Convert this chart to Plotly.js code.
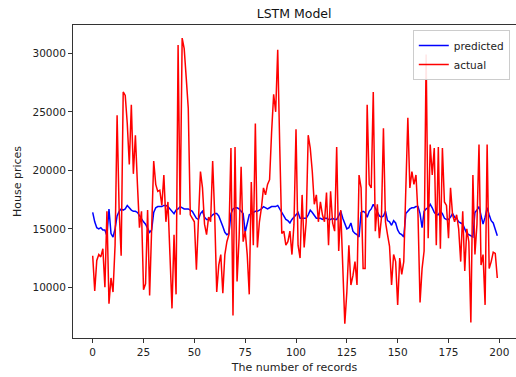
<!DOCTYPE html>
<html>
<head>
<meta charset="utf-8">
<script src="https://cdn.plot.ly/plotly-3.0.1.min.js"></script>
<style>html,body{margin:0;padding:0;background:#fff;}#chart{width:516px;height:377px;}</style>
</head>
<body>
<div id="chart"></div>
<script>
const predicted = [
16400,15600,15100,15000,15100,14900,14900,14400,16700,14600,
14300,15000,16100,16500,16700,16600,16700,17000,16800,16600,
16500,16500,16400,16100,15800,15600,15400,15000,14700,14900,
16400,16800,16900,16900,16900,17000,17000,16900,16700,16500,
16300,16600,16700,16900,16800,16700,16700,16700,16600,16500,
16200,15900,15800,16300,16500,16000,15800,15800,16000,16200,
16300,16300,16100,15700,15200,14700,14500,14600,16300,16700,
16800,16800,16700,16500,16300,14700,15600,16200,16300,16400,
16500,16500,16600,16700,16900,16800,16700,16800,16900,16900,
16900,17000,16700,16300,16000,15800,15700,15500,15800,16000,
16200,16400,15900,15900,15900,15900,16200,16600,16400,16100,
15900,15900,15900,15800,15900,15900,15800,15800,15900,15800,
15800,16100,16500,15900,15500,15000,15100,15500,14800,14600,
14500,14300,16400,16500,16400,16000,16500,16700,17100,16800,
16500,16100,16000,16100,16500,15700,15600,15300,15700,15500,
14900,14600,14500,14300,16300,16500,16700,16800,16800,16900,
16900,16300,15100,16500,16700,16800,17100,16800,16400,16200,
16200,16500,16300,15900,15800,15800,16000,16300,16000,15900,
15600,15500,15400,15000,14600,14500,14400,14300,16400,16600,
16900,16000,15400,16000,16800,16200,15700,15500,15000,14400
];
const actual = [
12700,9700,12300,12800,12600,13300,10000,16500,8600,10800,
9600,13600,24700,16600,12700,26700,26400,24000,20500,25600,
19700,23000,18800,15100,16500,9800,10300,16600,9300,15000,
20800,18800,18200,18300,17000,19600,15600,17300,12500,8200,
14500,9400,30700,16200,31300,30400,27900,25300,16200,15900,
15600,11500,16200,19900,18500,15400,14500,16000,15600,20800,
16200,9600,11900,12800,9500,12800,13900,14500,21900,7600,
22000,10500,14200,20300,13900,14800,12800,9400,19000,13600,
24000,13400,15600,16800,18500,17900,18800,19200,23300,26500,
25000,30300,22000,14600,14800,13600,13900,14800,12800,15400,
23500,13600,12500,17900,13400,15600,23000,21900,19900,17100,
17900,15600,17300,16200,15600,18100,13600,18200,15500,14800,
22000,13100,16600,12200,6900,9600,13600,10200,11000,12200,
10200,19600,18500,11600,11600,25600,18800,18500,26700,14800,
17100,14200,15900,23600,15600,14500,13500,10200,12800,12200,
8500,12500,11100,12200,17900,24500,18500,19900,18800,19600,
16200,8700,11600,13100,29900,14200,22200,19600,21900,13600,
22000,13300,21900,17300,17000,14200,18500,16200,15600,16200,
15000,12200,16500,11400,15000,13900,7000,19600,12800,15400,
22200,11900,12800,8500,22200,11600,12200,13000,12900,10800
];
const records = predicted.map((_, i) => i);
const xTicks = [0, 25, 50, 75, 100, 125, 150, 175, 200];
const yTicks = [10000, 15000, 20000, 25000, 30000];

const font = "DejaVu Sans, sans-serif";
const data = [
  {x: records, y: predicted, name: "predicted", type: "scatter", mode: "lines",
   line: {color: "#0000ff", width: 1.5}},
  {x: records, y: actual, name: "actual", type: "scatter", mode: "lines",
   line: {color: "#ff0000", width: 1.5}}
];
const layout = {
  width: 516, height: 377,
  margin: {l: 73, r: 0, t: 25, b: 39},
  paper_bgcolor: "#fff", plot_bgcolor: "#fff",
  font: {family: font, size: 10.5, color: "#222"},
  title: {text: "LSTM Model", font: {family: font, size: 12.5, color: "#111"},
          x: 0.57, xanchor: "center", y: 0.965, yanchor: "middle"},
  xaxis: {range: [-9.69, 208.2], tickvals: xTicks, ticktext: xTicks.map(String),
          showgrid: false, zeroline: false, showline: true, linecolor: "#333", linewidth: 1,
          mirror: true, ticks: "outside", ticklen: 4, tickcolor: "#333",
          title: {text: "The number of records", font: {size: 11}, standoff: 6}},
  yaxis: {range: [5670, 32420], tickvals: yTicks, ticktext: yTicks.map(String),
          showgrid: false, zeroline: false, showline: true, linecolor: "#333", linewidth: 1,
          mirror: true, ticks: "outside", ticklen: 4, tickcolor: "#333",
          title: {text: "House prices", font: {size: 11}, standoff: 8}},
  showlegend: true,
  legend: {x: 0.986, xanchor: "right", y: 0.984, yanchor: "top",
           bgcolor: "rgba(255,255,255,0.9)", bordercolor: "#ccc", borderwidth: 1,
           font: {size: 10.5, color: "#222"}, itemwidth: 30, tracegroupgap: 0}
};
Plotly.newPlot("chart", data, layout, {displayModeBar: false, staticPlot: true});
</script>
</body>
</html>
